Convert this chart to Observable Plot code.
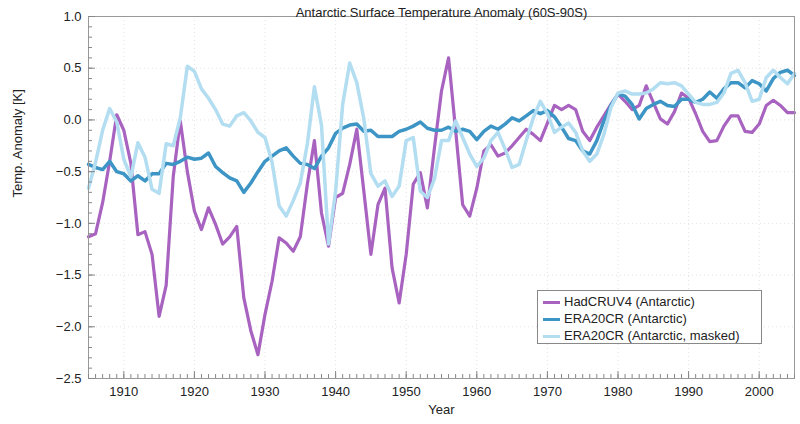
<!DOCTYPE html>
<html>
<head>
<meta charset="utf-8">
<script src="https://cdn.jsdelivr.net/npm/d3@7"></script>
<script src="https://cdn.jsdelivr.net/npm/@observablehq/plot@0.6"></script>
<style>
  html, body { margin: 0; padding: 0; background: white; }
  #wrap { position: relative; width: 800px; height: 424px; font-family: "Liberation Sans", Arial, sans-serif; }
  #legend { position: absolute; left: 537px; top: 290px; width: 223px; height: 52px; border: 1px solid #888; background: white; font-size: 13px; color: #222; }
  .row { position: absolute; left: 0; height: 16px; }
  .sw { position: absolute; left: 5px; width: 17px; height: 3px; top: 7px; }
  .lab { position: absolute; left: 26px; top: 0; white-space: nowrap; line-height: 16px; }
</style>
</head>
<body>
<div id="wrap"></div>
<script>
const title = "Antarctic Surface Temperature Anomaly (60S-90S)";
const xLabel = "Year";
const yLabel = "Temp. Anomaly [K]";
const seriesNames = ["HadCRUV4 (Antarctic)", "ERA20CR (Antarctic)", "ERA20CR (Antarctic, masked)"];
const seriesColors = ["#a862bf", "#3d95c6", "#b3ddf0"];

const years = d3.range(1905, 2006);

const hadcru = [
  -1.13, -1.10, -0.80, -0.40, 0.05, -0.10, -0.42, -1.11, -1.08, -1.30,
  -1.90, -1.60, -0.55, -0.01, -0.50, -0.88, -1.06, -0.85, -1.01, -1.20,
  -1.13, -1.03, -1.72, -2.04, -2.27, -1.88, -1.56, -1.14, -1.19, -1.27,
  -1.13, -0.62, -0.20, -0.90, -1.22, -0.75, -0.71, -0.43, -0.09, -0.69,
  -1.30, -0.82, -0.66, -1.43, -1.77, -1.30, -0.62, -0.51, -0.85, -0.27,
  0.28, 0.60, -0.10, -0.82, -0.93, -0.66, -0.30, -0.24, -0.35, -0.32,
  -0.25, -0.17, -0.09, -0.14, -0.20, -0.03, 0.14, 0.10, 0.14, 0.10,
  -0.11, -0.20, -0.07, 0.04, 0.15, 0.25, 0.18, 0.10, 0.14, 0.33,
  0.17, 0.01, -0.04, 0.08, 0.26, 0.21, 0.06, -0.11, -0.21, -0.20,
  -0.06, 0.04, 0.04, -0.11, -0.12, -0.04, 0.14, 0.19, 0.14, 0.07,
  0.07
];

const era20cr = [
  -0.43, -0.46, -0.48, -0.40, -0.50, -0.52, -0.59, -0.54, -0.59, -0.52,
  -0.52, -0.42, -0.43, -0.40, -0.36, -0.38, -0.37, -0.32, -0.45, -0.51,
  -0.56, -0.59, -0.70, -0.61, -0.50, -0.40, -0.35, -0.30, -0.27, -0.35,
  -0.42, -0.43, -0.47, -0.35, -0.27, -0.13, -0.08, -0.05, -0.04, -0.11,
  -0.10, -0.16, -0.16, -0.16, -0.11, -0.09, -0.06, -0.02, -0.08, -0.10,
  -0.10, -0.07, -0.11, -0.09, -0.11, -0.19, -0.11, -0.06, -0.09, -0.04,
  0.02, -0.01, 0.04, 0.09, 0.06, 0.09, 0.03, -0.07, -0.18, -0.20,
  -0.30, -0.33, -0.20, -0.01, 0.14, 0.25, 0.23, 0.15, 0.01, 0.11,
  0.15, 0.18, 0.14, 0.13, 0.20, 0.20, 0.17, 0.20, 0.27, 0.21,
  0.30, 0.36, 0.36, 0.31, 0.38, 0.35, 0.28, 0.40, 0.46, 0.48,
  0.43
];

const era20crMasked = [
  -0.66, -0.41, -0.10, 0.11, -0.02, -0.38, -0.55, -0.22, -0.36, -0.67,
  -0.71, -0.23, -0.25, 0.02, 0.52, 0.47, 0.30, 0.21, 0.10, -0.04,
  -0.06, 0.04, 0.07, -0.01, -0.12, -0.17, -0.41, -0.83, -0.93, -0.78,
  -0.61, -0.23, 0.32, -0.05, -1.20, -0.69, 0.15, 0.55, 0.36, 0.01,
  -0.52, -0.64, -0.59, -0.74, -0.64, -0.20, -0.17, -0.69, -0.75, -0.57,
  -0.20, -0.20, -0.01, -0.17, -0.33, -0.45, -0.37, -0.20, -0.12, -0.28,
  -0.46, -0.43, -0.20, 0.02, 0.18, 0.06, -0.12, -0.07, -0.03, -0.12,
  -0.30, -0.40, -0.33, -0.14, 0.12, 0.26, 0.28, 0.25, 0.25, 0.26,
  0.30, 0.36, 0.35, 0.36, 0.33, 0.25, 0.17, 0.15, 0.15, 0.17,
  0.26, 0.45, 0.48, 0.36, 0.18, 0.20, 0.41, 0.48, 0.41, 0.35,
  0.45
];

const xTicks = [1910, 1920, 1930, 1940, 1950, 1960, 1970, 1980, 1990, 2000];
const yTicks = [-2.5, -2.0, -1.5, -1.0, -0.5, 0, 0.5, 1.0];
const yMinor = d3.range(-25, 11).map(d => d / 10);

const W = 800, H = 424;
const mT = 16, mB = 46, mL = 88, mR = 6;
const plotH = H - mT - mB, plotW = W - mL - mR;

const rows = years.map((year, i) => ({year, had: hadcru[i], era: era20cr[i], masked: era20crMasked[i]}));

const chart = Plot.plot({
  width: W, height: H,
  marginTop: mT, marginBottom: mB, marginLeft: mL, marginRight: mR,
  x: {domain: [1905, 2005]},
  y: {domain: [-2.5, 1.0]},
  style: {fontFamily: "'Liberation Sans', Arial, sans-serif", fontSize: "13px", color: "#222", background: "white", overflow: "visible"},
  marks: [
    Plot.gridX(xTicks, {stroke: "#aaa", strokeOpacity: 0.35, strokeDasharray: "1,3"}),
    Plot.gridY(yTicks, {stroke: "#aaa", strokeOpacity: 0.35, strokeDasharray: "1,3"}),
    Plot.line(rows, {x: "year", y: "had", stroke: seriesColors[0], strokeWidth: 3.2}),
    Plot.line(rows, {x: "year", y: "era", stroke: seriesColors[1], strokeWidth: 3.5}),
    Plot.line(rows, {x: "year", y: "masked", stroke: seriesColors[2], strokeWidth: 3.5}),
    Plot.frame({stroke: "#999"}),
    Plot.ruleX(years, {insetTop: plotH - 4, stroke: "#888"}),
    Plot.ruleX(xTicks, {insetTop: plotH - 7, stroke: "#888"}),
    Plot.ruleY(yMinor, {insetRight: plotW - 4, stroke: "#888"}),
    Plot.ruleY(yTicks, {insetRight: plotW - 7, stroke: "#888"}),
    Plot.axisX(xTicks, {tickSize: 0, tickPadding: 8, tickFormat: d => String(d), label: null}),
    Plot.axisY(yTicks, {tickSize: 0, tickPadding: 7, tickFormat: d3.format(".1f"), label: null}),
    Plot.text([title], {text: d => d, frameAnchor: "top", dy: -9, fontSize: 13}),
    Plot.text([xLabel], {text: d => d, frameAnchor: "bottom", dy: 35, fontSize: 13}),
    Plot.text([yLabel], {text: d => d, frameAnchor: "left", dx: -71, rotate: -90, fontSize: 13})
  ]
});

const wrap = document.getElementById("wrap");
wrap.appendChild(chart);

const legend = document.createElement("div");
legend.id = "legend";
seriesNames.forEach((name, i) => {
  const row = document.createElement("div");
  row.className = "row";
  row.style.top = (3 + i * 17) + "px";
  const sw = document.createElement("div");
  sw.className = "sw";
  sw.style.background = seriesColors[i];
  const lab = document.createElement("div");
  lab.className = "lab";
  lab.textContent = name;
  row.appendChild(sw);
  row.appendChild(lab);
  legend.appendChild(row);
});
wrap.appendChild(legend);
</script>
</body>
</html>
